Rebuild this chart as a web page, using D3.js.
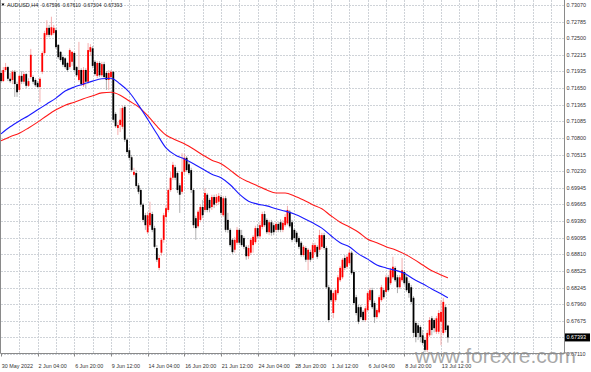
<!DOCTYPE html>
<html>
<head>
  <meta charset="utf-8">
  <script src="https://d3js.org/d3.v7.min.js"></script>
  <style>
    body { margin:0; background:#fff; }
    text { font-family: "Liberation Sans", Arial, sans-serif; }
  </style>
</head>
<body>
<div id="container"></div>
<script>
// AUDUSD H4 candles, 30 May 2022 12:00 .. 14 Jul 2022 04:00
var opens = [
  .7191,.7177,.7196,.7201,.7181,.7179,.7193,.7172,.7162,.7186,
  .7176,.7189,.7169,.7184,.7184,.7179,.7174,.7167,.7193,.7225,
  .7256,.7268,.7256,.7259,.7264,.7239,.7227,.7218,.7216,.7208,
  .7201,.7210,.7225,.7201,.7179,.7196,.7170,.7196,.7176,.7227,
  .7233,.7210,.7186,.7208,.7187,.7206,.7191,.7179,.7184,.7193,
  .7121,.7097,.7102,.7099,.7133,.7077,.7059,.7047,.7017,.7020,
  .6999,.6991,.6966,.6948,.6919,.6931,.6950,.6926,.6892,.6858,
  .6884,.6906,.6945,.6957,.6991,.7012,.7030,.7020,.6999,.6988,
  .7022,.7046,.7035,.7025,.6991,.6943,.6929,.6940,.6962,.6957,
  .6983,.6974,.6962,.6979,.6969,.6971,.6979,.6948,.6977,.6940,
  .6923,.6906,.6889,.6901,.6923,.6914,.6909,.6894,.6878,.6884,
  .6897,.6902,.6926,.6912,.6928,.6950,.6940,.6919,.6936,.6931,
  .6923,.6933,.6936,.6923,.6931,.6934,.6954,.6936,.6923,.6918,
  .6909,.6901,.6880,.6892,.6872,.6885,.6875,.6885,.6894,.6889,
  .6894,.6914,.6892,.6825,.6820,.6781,.6803,.6815,.6837,.6842,
  .6875,.6860,.6866,.6884,.6851,.6808,.6791,.6791,.6783,.6769,
  .6786,.6803,.6820,.6798,.6774,.6782,.6803,.6820,.6817,.6842,
  .6832,.6842,.6858,.6842,.6825,.6837,.6851,.6842,.6832,.6825,
  .6807,.6764,.6760,.6757,.6743,.6735,.6718,.6743,.6772,.6769,
  .6749,.6749,.6766,.6747,.6791,.67596];
var highs = [
  .7196,.7201,.7208,.7203,.7191,.7196,.7196,.7176,.7189,.7194,
  .7193,.7191,.7182,.7232,.7187,.7182,.7177,.7184,.7228,.7263,
  .7281,.7273,.7287,.7273,.7268,.7240,.7228,.7222,.7218,.7210,
  .7233,.7228,.7227,.7203,.7244,.7199,.7201,.7199,.7242,.7240,
  .7237,.7213,.7211,.7211,.7210,.7210,.7194,.7196,.7196,.7194,
  .7124,.7107,.7131,.7135,.7136,.7080,.7063,.7051,.7029,.7025,
  .7003,.6994,.6969,.6952,.6954,.6971,.6954,.6930,.6897,.6880,
  .6909,.6952,.6966,.6994,.7022,.7039,.7034,.7023,.7003,.7054,
  .7053,.7049,.7039,.7029,.6994,.6947,.6957,.6966,.6974,.6994,
  .6986,.6977,.6983,.6983,.6984,.6986,.6983,.6981,.6981,.6952,
  .6926,.6909,.6911,.6928,.6926,.6923,.6912,.6897,.6897,.6909,
  .6914,.6930,.6933,.6936,.6954,.6955,.6943,.6940,.6940,.6935,
  .6936,.6936,.6941,.6940,.6950,.6964,.6957,.6940,.6926,.6921,
  .6912,.6904,.6897,.6895,.6892,.6889,.6901,.6901,.6897,.6923,
  .6918,.6918,.6895,.6829,.6824,.6818,.6824,.6846,.6861,.6875,
  .6880,.6880,.6889,.6887,.6854,.6812,.6795,.6795,.6786,.6793,
  .6818,.6824,.6824,.6802,.6789,.6812,.6829,.6824,.6846,.6846,
  .6858,.6877,.6861,.6846,.6846,.6875,.6854,.6846,.6836,.6829,
  .6810,.6767,.6764,.6760,.6752,.6738,.6752,.6774,.6776,.6772,
  .6776,.6786,.6803,.6807,.6795,.67610];
var lows = [
  .7174,.7176,.7193,.7177,.7174,.7172,.7150,.7150,.7158,.7172,
  .7172,.7165,.7167,.7181,.7172,.7167,.7165,.7141,.7189,.7222,
  .7252,.7252,.7254,.7256,.7232,.7215,.7210,.7201,.7198,.7193,
  .7198,.7203,.7193,.7184,.7176,.7169,.7167,.7165,.7172,.7220,
  .7199,.7186,.7182,.7184,.7184,.7181,.7162,.7162,.7179,.7106,
  .7097,.7085,.7090,.7095,.7073,.7053,.7042,.7022,.7014,.6995,
  .6984,.6962,.6936,.6923,.6916,.6928,.6919,.6891,.6868,.6854,
  .6879,.6901,.6936,.6953,.6988,.7008,.7008,.6986,.6952,.6984,
  .7017,.7022,.7017,.6986,.6926,.6906,.6926,.6936,.6943,.6953,
  .6953,.6953,.6957,.6960,.6964,.6966,.6948,.6945,.6919,.6918,
  .6894,.6882,.6884,.6897,.6897,.6894,.6890,.6872,.6873,.6880,
  .6884,.6899,.6909,.6909,.6924,.6928,.6916,.6914,.6913,.6914,
  .6919,.6919,.6919,.6919,.6928,.6931,.6926,.6902,.6906,.6899,
  .6890,.6877,.6877,.6868,.6854,.6868,.6872,.6882,.6873,.6885,
  .6890,.6889,.6822,.6765,.6800,.6772,.6800,.6812,.6834,.6839,
  .6854,.6856,.6863,.6846,.6795,.6777,.6762,.6771,.6766,.6766,
  .6783,.6800,.6788,.6764,.6771,.6779,.6800,.6805,.6813,.6817,
  .6829,.6839,.6834,.6815,.6822,.6834,.6829,.6817,.6807,.6796,
  .6740,.6731,.6735,.6731,.6726,.6714,.6714,.6740,.6743,.6748,
  .6745,.6745,.6726,.6743,.6748,.67304];
var closes = [
  .7177,.7196,.7201,.7181,.7177,.7193,.7172,.7158,.7186,.7176,
  .7189,.7169,.7177,.7222,.7176,.7170,.7167,.7181,.7225,.7259,
  .7268,.7256,.7269,.7268,.7235,.7218,.7213,.7205,.7201,.7196,
  .7230,.7227,.7196,.7187,.7196,.7172,.7196,.7176,.7230,.7235,
  .7203,.7189,.7208,.7187,.7206,.7184,.7179,.7191,.7193,.7111,
  .7100,.7102,.7111,.7131,.7077,.7056,.7046,.7025,.7022,.6998,
  .6988,.6966,.6940,.6931,.6948,.6952,.6923,.6894,.6872,.6875,
  .6906,.6948,.6960,.6991,.7012,.7034,.7012,.6991,.6983,.7022,
  .7046,.7025,.7020,.6991,.6931,.6926,.6954,.6962,.6948,.6986,
  .6957,.6960,.6979,.6966,.6979,.6981,.6952,.6977,.6923,.6923,
  .6897,.6885,.6906,.6923,.6901,.6897,.6894,.6878,.6892,.6906,
  .6911,.6926,.6912,.6931,.6950,.6931,.6919,.6936,.6918,.6919,
  .6933,.6923,.6923,.6935,.6945,.6957,.6929,.6906,.6909,.6902,
  .6894,.6880,.6894,.6872,.6889,.6872,.6897,.6897,.6877,.6914,
  .6914,.6892,.6825,.6769,.6803,.6815,.6820,.6842,.6858,.6872,
  .6858,.6877,.6884,.6849,.6798,.6781,.6766,.6774,.6769,.6789,
  .6815,.6820,.6791,.6774,.6786,.6808,.6825,.6808,.6842,.6820,
  .6854,.6860,.6837,.6825,.6842,.6854,.6832,.6820,.6815,.6800,
  .6747,.6740,.6747,.6740,.6730,.6718,.6747,.6769,.6752,.6755,
  .6772,.6781,.6783,.6800,.6752,.67393];

// moving averages, read every 4 bars (+ last bar)
var maBars = d3.range(0, 196, 4).concat([195]);
var maFast = [.7087,.7099,.7109,.7118,.7128,.7138,.7148,.7160,.7167,.7172,
  .7177,.7181,.7182,.7172,.7158,.7136,.7112,.7087,.7063,.7051,
  .7044,.7036,.7027,.7018,.7012,.7000,.6984,.6972,.6967,.6964,
  .6959,.6955,.6950,.6943,.6935,.6926,.6913,.6901,.6894,.6882,
  .6873,.6863,.6858,.6854,.6849,.6839,.6831,.6822,.6814,.6807];
var maSlow = [.7075,.7082,.7088,.7097,.7107,.7118,.7128,.7136,.7141,.7147,
  .7152,.7157,.7158,.7153,.7143,.7133,.7118,.7100,.7085,.7077,
  .7070,.7061,.7051,.7042,.7036,.7025,.7013,.7005,.6998,.6991,
  .6986,.6986,.6981,.6974,.6966,.6959,.6947,.6936,.6928,.6919,
  .6907,.6901,.6894,.6889,.6882,.6873,.6863,.6853,.6846,.6841];

var priceTicks = [0.73070,0.72785,0.72500,0.72215,0.71935,0.71650,0.71365,0.71085,
  0.70800,0.70515,0.70230,0.69945,0.69665,0.69380,0.69095,0.68810,0.68525,
  0.68245,0.67960,0.67675,0.67395,0.67110];
var timeLabels = ["30 May 2022","2 Jun 04:00","6 Jun 20:00","9 Jun 12:00","14 Jun 04:00",
  "16 Jun 20:00","21 Jun 12:00","24 Jun 04:00","28 Jun 20:00","1 Jul 12:00",
  "6 Jul 04:00","8 Jul 20:00","13 Jul 12:00"];
var headerValues = ["0.67596","0.67610","0.67304","0.67393"];
var lastPrice = closes[closes.length - 1];

var w = 591, h = 372;
var plotRight = 564.5, plotBottom = 353.5;

var svg = d3.select("#container").append("svg")
    .attr("width", w).attr("height", h);

var x = d3.scaleLinear().domain([0, 246]).range([1, 1 + 246 * 2.2917]);
var y = d3.scaleLinear().domain([0.67110, 0.73070]).range([354, 5]);

// grid
var grid = svg.append("g")
    .attr("stroke", "#cfd3d8")
    .attr("stroke-width", 1)
    .attr("stroke-dasharray", "2,1");
grid.selectAll("line.h").data(priceTicks).enter().append("line")
    .attr("x1", 1).attr("x2", plotRight)
    .attr("y1", function(d){ return Math.round(y(d)) + 0.5; })
    .attr("y2", function(d){ return Math.round(y(d)) + 0.5; });
grid.selectAll("line.v").data(d3.range(8, 246, 8)).enter().append("line")
    .attr("y1", 0).attr("y2", plotBottom)
    .attr("x1", function(d){ return Math.round(x(d)) + 0.5; })
    .attr("x2", function(d){ return Math.round(x(d)) + 0.5; });

// frame
svg.append("path")
    .attr("d", "M0.5,0 V" + plotBottom + " H" + plotRight + " V0")
    .attr("fill", "none")
    .attr("stroke", "#8a8a8a");

// candles
var bars = d3.range(closes.length);
var cg = svg.append("g");
cg.selectAll("line.wick").data(bars).enter().append("line")
    .attr("x1", function(i){ return x(i); })
    .attr("x2", function(i){ return x(i); })
    .attr("y1", function(i){ return y(highs[i]); })
    .attr("y2", function(i){ return y(lows[i]); })
    .attr("stroke", function(i){ return closes[i] >= opens[i] ? "#f19a9a" : "#9c9c9c"; })
    .attr("stroke-width", 0.8);
cg.selectAll("rect.body").data(bars).enter().append("rect")
    .attr("x", function(i){ return x(i) - 0.9; })
    .attr("width", 1.8)
    .attr("y", function(i){ return y(Math.max(opens[i], closes[i])); })
    .attr("height", function(i){ return Math.max(0.8, Math.abs(y(opens[i]) - y(closes[i]))); })
    .attr("fill", function(i){ return closes[i] >= opens[i] ? "#ff0000" : "#000000"; });

// moving averages
var maLine = d3.line()
    .x(function(d, k){ return x(maBars[k]); })
    .y(function(d){ return y(d); })
    .curve(d3.curveMonotoneX);
svg.append("path").datum(maSlow)
    .attr("d", maLine).attr("fill", "none")
    .attr("stroke", "#ff1a1a").attr("stroke-width", 1.1);
svg.append("path").datum(maFast)
    .attr("d", maLine).attr("fill", "none")
    .attr("stroke", "#1a1aff").attr("stroke-width", 1.1);

// price axis labels
svg.selectAll("text.price").data(priceTicks.filter(function(d){
      return Math.abs(y(d) - y(lastPrice)) > 4;
    })).enter().append("text")
    .attr("x", 566.5)
    .attr("y", function(d){ return y(d) + 2; })
    .attr("font-size", "5.4px")
    .attr("fill", "#333")
    .text(function(d){ return d3.format(".5f")(d); });

// current price box
svg.append("rect")
    .attr("x", 565).attr("y", y(lastPrice) - 4)
    .attr("width", 25).attr("height", 8)
    .attr("fill", "#000");
svg.append("text")
    .attr("x", 566.5).attr("y", y(lastPrice) + 2)
    .attr("font-size", "5.4px")
    .attr("fill", "#fff")
    .text(d3.format(".5f")(lastPrice));

// time axis
var tg = svg.append("g");
tg.selectAll("line").data(timeLabels).enter().append("line")
    .attr("x1", function(d, k){ return Math.round(x(k * 16)) + 0.5; })
    .attr("x2", function(d, k){ return Math.round(x(k * 16)) + 0.5; })
    .attr("y1", plotBottom).attr("y2", plotBottom + 3)
    .attr("stroke", "#8a8a8a");
tg.selectAll("text").data(timeLabels).enter().append("text")
    .attr("x", function(d, k){ return x(k * 16) + 0.8; })
    .attr("y", 368)
    .attr("font-size", "5.4px")
    .attr("fill", "#333")
    .text(function(d){ return d; });

// header
svg.append("path")
    .attr("d", "M1.5,3.5 L4.5,3.5 L3,6 Z")
    .attr("fill", "#000");
svg.append("text")
    .attr("x", 7).attr("y", 7.2)
    .attr("font-size", "5.4px").attr("fill", "#222")
    .text("AUDUSD,H4");
svg.selectAll("text.hv").data(headerValues).enter().append("text")
    .attr("x", function(d, k){ return 42 + k * 20.7; })
    .attr("y", 7.2)
    .attr("font-size", "5px").attr("fill", "#222")
    .text(function(d){ return d; });

// watermark
svg.append("text")
    .attr("x", 415).attr("y", 363)
    .attr("font-size", "21px")
    .attr("fill", "#8c8c8c")
    .attr("fill-opacity", 0.75)
    .text("www.forexre.com");
</script>
</body>
</html>
